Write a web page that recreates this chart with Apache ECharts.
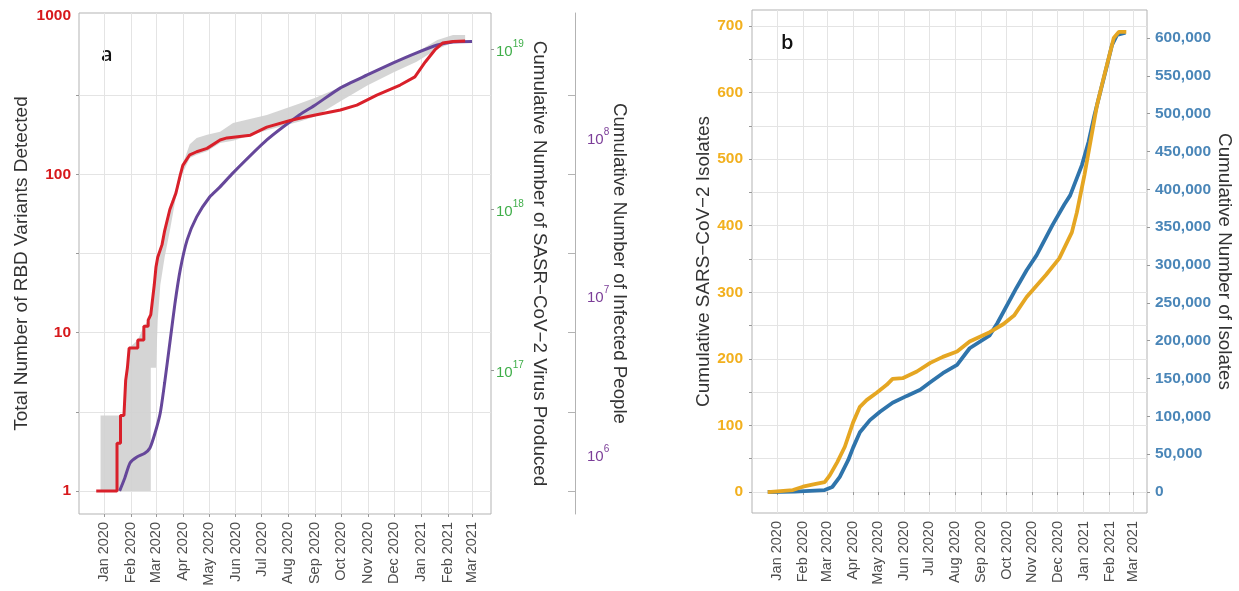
<!DOCTYPE html>
<html>
<head>
<meta charset="utf-8">
<script src="https://cdn.jsdelivr.net/npm/echarts@6/dist/echarts.min.js"></script>
<style>
  html, body { margin: 0; padding: 0; background: #fff; }
  #chart { width: 1239px; height: 591px; }
</style>
</head>
<body>
<div id="chart"></div>
<script>
// month ticks shared by both panels
const monthTicks = ['2020-01-01', '2020-02-01', '2020-03-01', '2020-04-01', '2020-05-01', '2020-06-01',
  '2020-07-01', '2020-08-01', '2020-09-01', '2020-10-01', '2020-11-01', '2020-12-01',
  '2021-01-01', '2021-02-01', '2021-03-01'];
const monthNames = ['Jan', 'Feb', 'Mar', 'Apr', 'May', 'Jun', 'Jul', 'Aug', 'Sep', 'Oct', 'Nov', 'Dec'];

// panel a: RBD variants detected (red, left log axis)
const redDates = ['2019-12-23', '2020-01-16', '2020-01-16', '2020-01-20', '2020-01-20', '2020-01-24', '2020-01-26',
  '2020-01-28', '2020-01-30', '2020-02-09', '2020-02-09', '2020-02-16', '2020-02-16', '2020-02-21', '2020-02-21',
  '2020-02-23', '2020-02-24', '2020-02-26', '2020-02-28', '2020-03-01', '2020-03-03', '2020-03-08', '2020-03-11',
  '2020-03-17', '2020-03-24', '2020-03-29', '2020-04-01', '2020-04-09', '2020-04-17', '2020-04-29', '2020-05-14',
  '2020-05-22', '2020-06-18', '2020-07-07', '2020-08-03', '2020-08-14', '2020-09-01', '2020-09-30', '2020-10-19',
  '2020-11-11', '2020-12-08', '2020-12-25', '2021-01-06', '2021-01-17', '2021-01-26', '2021-02-07', '2021-02-21'];
const redValues = [1, 1, 2, 2, 3, 3, 5,
  6, 8, 8, 9, 9, 11, 11, 12,
  12, 13, 13, 20, 26, 30, 36, 44,
  60, 76, 99, 114, 133, 139, 146, 165,
  170, 177, 199, 219, 226, 237, 255, 274,
  317, 367, 413, 513, 611, 676, 692, 696];

// panel a: cumulative infected people (purple axis)
const purpleDates = ['2020-01-19', '2020-01-25', '2020-01-31', '2020-02-08', '2020-02-17', '2020-02-23', '2020-02-29',
  '2020-03-06', '2020-03-11', '2020-03-17', '2020-03-23', '2020-03-29', '2020-04-06', '2020-04-17', '2020-05-02',
  '2020-05-14', '2020-05-29', '2020-07-07', '2020-08-14', '2020-09-01', '2020-09-30', '2020-10-31', '2020-11-30',
  '2020-12-27', '2021-01-20', '2021-02-07', '2021-03-01'];
const purpleValues = [5.85e5, 7.06e5, 8.77e5, 9.57e5, 1.01e6, 1.09e6, 1.36e6,
  1.82e6, 2.81e6, 5.01e6, 8.97e6, 1.45e7, 2.24e7, 3.13e7, 4.18e7,
  4.84e7, 5.93e7, 9.57e7, 1.38e8, 1.59e8, 2.04e8, 2.46e8, 2.93e8,
  3.39e8, 3.80e8, 3.97e8, 4.0e8];

// panel a: grey uncertainty band (in red axis units)
const bandDates = ['2019-12-28', '2020-01-16', '2020-01-24', '2020-01-26', '2020-01-30', '2020-02-09', '2020-02-16',
  '2020-02-21', '2020-02-24', '2020-02-24', '2020-03-01', '2020-03-03', '2020-03-06', '2020-03-11', '2020-03-17',
  '2020-03-24', '2020-03-31', '2020-04-09', '2020-04-17', '2020-04-29', '2020-05-14', '2020-05-29', '2020-07-07',
  '2020-08-14', '2020-09-01', '2020-09-30', '2020-10-31', '2020-11-30', '2020-12-27', '2021-01-20', '2021-02-07',
  '2021-02-21'];
const bandLow = [1, 1, 1, 1, 1, 1, 1,
  1, 1, 6, 6, 12, 20, 30, 44,
  72, 100, 127, 133, 140, 158, 163, 190,
  216, 232, 290, 365, 440, 515, 620, 680,
  690];
const bandHigh = [3, 3, 3, 5, 8, 9, 11,
  12, 13, 13, 27, 31, 35, 45, 63,
  82, 112, 155, 170, 178, 186, 211, 237,
  280, 305, 355, 430, 505, 590, 705, 760,
  760];

// panel b: cumulative SARS-CoV-2 isolates (orange, left)
const orangeDates = ['2019-12-21', '2020-01-20', '2020-02-01', '2020-02-15', '2020-02-27', '2020-03-04', '2020-03-13',
  '2020-03-22', '2020-04-01', '2020-04-09', '2020-04-17', '2020-04-29', '2020-05-11', '2020-05-18', '2020-05-30',
  '2020-06-16', '2020-07-02', '2020-07-17', '2020-08-03', '2020-08-18', '2020-09-11', '2020-09-27', '2020-10-10',
  '2020-10-25', '2020-11-17', '2020-12-03', '2020-12-18', '2020-12-24', '2021-01-02', '2021-01-10', '2021-01-17',
  '2021-01-25', '2021-01-31', '2021-02-06', '2021-02-12', '2021-02-21'];
const orangeValues = [0, 3, 8, 12, 15, 25, 45,
  68, 105, 128, 138, 149, 161, 170, 171,
  181, 194, 203, 211, 226, 240, 252, 265,
  293, 326, 351, 390, 420, 476, 532, 581,
  622, 652, 682, 691, 691];

// panel b: cumulative number of isolates (blue, right)
const blueDates = ['2019-12-21', '2020-01-22', '2020-02-27', '2020-03-07', '2020-03-16', '2020-03-26', '2020-04-01',
  '2020-04-09', '2020-04-21', '2020-05-03', '2020-05-18', '2020-06-04', '2020-06-20', '2020-07-02', '2020-07-17',
  '2020-08-03', '2020-08-18', '2020-09-11', '2020-09-20', '2020-10-13', '2020-10-25', '2020-11-06', '2020-11-25',
  '2020-12-09', '2020-12-16', '2020-12-30', '2021-01-07', '2021-01-14', '2021-01-21', '2021-01-29', '2021-02-04',
  '2021-02-10', '2021-02-20'];
const blueValues = [0, 500, 2600, 6600, 20000, 42000, 59000,
  79000, 95000, 106000, 118000, 127000, 135000, 145000, 157000,
  168000, 190000, 207000, 223000, 270000, 293000, 313000, 353000,
  380000, 392000, 432000, 463000, 498000, 529000, 564000, 591000,
  604000, 607000];

const redTicks = [1, 3.1623, 10, 31.623, 100, 316.23];
const redLabels = [1, 10, 100, 1000];
const virusLabels = [1e17, 1e18, 1e19];
const peopleLabels = [1e6, 1e7, 1e8];
const isolateTicks = [0, 50, 100, 150, 200, 250, 300, 350, 400, 450, 500, 550, 600, 650, 700];
const isolateLabels = [0, 100, 200, 300, 400, 500, 600, 700];
const countLabels = [0, 50000, 100000, 150000, 200000, 250000, 300000, 350000, 400000, 450000, 500000, 550000, 600000];

const DAY = 86400000;
const ts = s => Date.parse(s + 'T00:00:00Z');
const pairs = (dates, vals) => dates.map((d, i) => [ts(d), vals[i]]);
const monthTs = monthTicks.map(ts);
const FONT = 'Liberation Sans, Arial, sans-serif';

const supRich = color => ({
  b: { fontSize: 15, lineHeight: 20, verticalAlign: 'bottom', color: color, fontFamily: FONT },
  s: { fontSize: 10, lineHeight: 20, verticalAlign: 'top', color: color, fontFamily: FONT }
});
const supFmt = v => '{b|10}{s|' + Math.round(Math.log10(v)) + '}';

function monthAxis(gridIndex, min, max) {
  return {
    type: 'value', gridIndex: gridIndex, min: min, max: max,
    axisLine: { show: false },
    axisTick: { show: true, length: 3, customValues: monthTs, lineStyle: { color: '#999' } },
    axisLabel: {
      customValues: monthTs, rotate: 90, margin: 8, color: '#4d4d4d', fontSize: 14.5, fontFamily: FONT,
      formatter: v => { const d = new Date(v); return monthNames[d.getUTCMonth()] + ' ' + d.getUTCFullYear(); }
    },
    splitLine: { show: true, lineStyle: { color: '#e4e4e4', width: 1 } }
  };
}

const nameStyle = size => ({ color: '#333', fontSize: size, fontFamily: FONT });

// grey band drawn as one polygon through the axis scales
const bandData = bandDates.map((d, i) => [ts(d), bandLow[i], bandHigh[i]]);
function renderBand(params, api) {
  if (params.dataIndex !== 0) return null;
  const upper = bandData.map(p => api.coord([p[0], p[2]]));
  const lower = bandData.map(p => api.coord([p[0], p[1]])).reverse();
  return {
    type: 'polygon',
    shape: { points: upper.concat(lower) },
    style: { fill: '#d0d0d0', opacity: 0.9 }
  };
}

const option = {
  animation: false,
  backgroundColor: '#fff',
  grid: [
    { left: 79, top: 13, width: 412, height: 501, show: true, borderColor: '#b3b3b3', borderWidth: 1, containLabel: false, outerBoundsMode: 'none' },
    { left: 752, top: 10, width: 395, height: 503, show: true, borderColor: '#b3b3b3', borderWidth: 1, containLabel: false, outerBoundsMode: 'none' }
  ],
  xAxis: [
    monthAxis(0, ts('2020-01-01') - 28.9 * DAY, ts('2021-03-01') + 21.9 * DAY),
    monthAxis(1, ts('2020-01-01') - 29.8 * DAY, ts('2021-03-01') + 16.7 * DAY)
  ],
  yAxis: [
    { // 0: red log axis
      type: 'log', gridIndex: 0, position: 'left', min: 0.7155, max: 1046,
      axisLine: { show: false },
      axisTick: { show: true, length: 3, customValues: redTicks, lineStyle: { color: '#999' } },
      axisLabel: { customValues: redLabels, color: '#d7191c', fontWeight: 'bold', fontSize: 15.5, margin: 8, fontFamily: FONT,
        formatter: v => String(Math.round(v)) },
      splitLine: { show: true, lineStyle: { color: '#e4e4e4', width: 1 } },
      name: 'Total Number of RBD Variants Detected', nameLocation: 'middle', nameRotate: 90, nameGap: 48,
      nameTextStyle: nameStyle(19)
    },
    { // 1: virus produced (green)
      type: 'log', gridIndex: 0, position: 'right', offset: 0, min: 1.27e16, max: 1.675e19,
      axisLine: { show: false },
      axisTick: { show: true, length: 3, customValues: virusLabels, lineStyle: { color: '#999' } },
      axisLabel: { customValues: virusLabels, margin: 5, formatter: supFmt, rich: supRich('#3fae49') },
      splitLine: { show: false },
      name: 'Cumulative Number of SASR\u2212CoV\u22122 Virus Produced', nameLocation: 'middle', nameRotate: -90, nameGap: 39,
      nameTextStyle: nameStyle(18.8)
    },
    { // 2: infected people (purple)
      type: 'log', gridIndex: 0, position: 'right', offset: 84, min: 4.18e5, max: 6.05e8,
      axisLine: { show: true, lineStyle: { color: '#b3b3b3', width: 1 } },
      axisTick: { show: false },
      axisLabel: { customValues: peopleLabels, margin: 12, formatter: supFmt, rich: supRich('#7b3d98') },
      splitLine: { show: false },
      name: 'Cumulative Number of Infected People', nameLocation: 'middle', nameRotate: -90, nameGap: 35,
      nameMoveOverlap: false,
      nameTextStyle: nameStyle(18.7)
    },
    { // 3: tick marks on the purple axis line
      type: 'log', gridIndex: 0, position: 'right', offset: 84, min: 0.7155, max: 1046,
      axisLine: { show: false },
      axisTick: { show: true, inside: true, length: 7, customValues: redTicks, lineStyle: { color: '#b3b3b3' } },
      axisLabel: { show: false },
      splitLine: { show: false }
    },
    { // 4: isolates (orange)
      type: 'value', gridIndex: 1, position: 'left', min: -31.5, max: 724,
      axisLine: { show: false },
      axisTick: { show: true, length: 3, customValues: isolateTicks, lineStyle: { color: '#999' } },
      axisLabel: { customValues: isolateLabels, color: '#f2b01e', fontWeight: 'bold', fontSize: 15.5, margin: 9, fontFamily: FONT },
      splitLine: { show: true, lineStyle: { color: '#e4e4e4', width: 1 } },
      name: 'Cumulative SARS\u2212CoV\u22122 Isolates', nameLocation: 'middle', nameRotate: 90, nameGap: 39,
      nameTextStyle: nameStyle(18.9)
    },
    { // 5: number of isolates (blue)
      type: 'value', gridIndex: 1, position: 'right', min: -27753, max: 637000,
      axisLine: { show: false },
      axisTick: { show: true, length: 3, customValues: countLabels, lineStyle: { color: '#999' } },
      axisLabel: { customValues: countLabels, color: '#4a86b8', fontWeight: 'bold', fontSize: 15.5, margin: 8, fontFamily: FONT,
        formatter: v => Math.round(v).toLocaleString('en-US') },
      splitLine: { show: false },
      name: 'Cumulative Number of Isolates', nameLocation: 'middle', nameRotate: -90, nameGap: 64,
      nameTextStyle: nameStyle(18.8)
    }
  ],
  series: [
    {
      name: 'band', type: 'custom', xAxisIndex: 0, yAxisIndex: 0, silent: true,
      encode: { x: 0, y: [1, 2] },
      renderItem: renderBand,
      data: bandData
    },
    {
      name: 'Infected people', type: 'line', xAxisIndex: 0, yAxisIndex: 2, symbol: 'none', smooth: 0.2,
      lineStyle: { color: '#66479a', width: 3 },
      data: pairs(purpleDates, purpleValues)
    },
    {
      name: 'RBD variants', type: 'line', xAxisIndex: 0, yAxisIndex: 0, symbol: 'none',
      lineStyle: { color: '#d9202a', width: 3 },
      data: pairs(redDates, redValues)
    },
    {
      name: 'Isolates (count)', type: 'line', xAxisIndex: 1, yAxisIndex: 5, symbol: 'none',
      lineStyle: { color: '#2f74ab', width: 3.8 },
      data: pairs(blueDates, blueValues)
    },
    {
      name: 'Isolates', type: 'line', xAxisIndex: 1, yAxisIndex: 4, symbol: 'none',
      lineStyle: { color: '#e5a622', width: 3.8 },
      data: pairs(orangeDates, orangeValues)
    }
  ],
  graphic: [
    { type: 'text', left: 101, top: 45, style: { text: 'a', fontSize: 20, fill: '#111', fontFamily: 'Open Sans, sans-serif', fontWeight: 600 } },
    { type: 'text', left: 781, top: 33, style: { text: 'b', fontSize: 20, fill: '#111', fontFamily: 'Open Sans, sans-serif', fontWeight: 600 } }
  ]
};

const chart = echarts.init(document.getElementById('chart'));
chart.setOption(option);
</script>
</body>
</html>
